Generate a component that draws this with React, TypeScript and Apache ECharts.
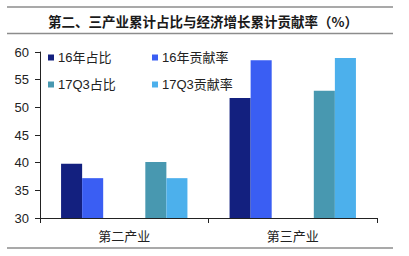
import React, { useEffect, useRef } from "react";
import * as echarts from "echarts";

const titleText = "第二、三产业累计占比与经济增长累计贡献率（%）";
const categories = ["第二产业", "第三产业"];
const share16 = [39.8, 51.7];
const contrib16 = [37.2, 58.5];
const share17Q3 = [40.1, 53.0];
const contrib17Q3 = [37.2, 58.9];
const seriesNames = ["16年占比", "16年贡献率", "17Q3占比", "17Q3贡献率"];
const colors = ["#13207f", "#3a5ef3", "#4898b0", "#4cb0ec"];
const yTicks = { min: 30, max: 60, interval: 5 };

export default function App() {
  const ref = useRef<HTMLDivElement>(null);
  useEffect(() => {
    if (!ref.current) return;
    const chart = echarts.init(ref.current, null, { renderer: "svg" });
    const labelFont = "Arial, 'Liberation Sans', 'Noto Sans CJK SC', sans-serif";
    const bar = (name: string, data: (number | null)[], color: string) => ({
      name,
      type: "bar",
      data,
      barGap: "0%",
      barCategoryGap: "25%",
      itemStyle: { color },
    });
    const legendBase = {
      orient: "vertical",
      top: 46,
      itemWidth: 6,
      itemHeight: 6,
      itemGap: 14,
      icon: "rect",
      textStyle: { fontSize: 13, color: "#222", fontFamily: labelFont, padding: [0, 0, 0, -1] },
    };
    chart.setOption({
      animation: false,
      backgroundColor: "#ffffff",
      graphic: [
        { type: "line", shape: { x1: 7, y1: 7, x2: 393, y2: 7 }, style: { stroke: "#8c8c8c", lineWidth: 1.5 } },
        { type: "line", shape: { x1: 7, y1: 33.5, x2: 393, y2: 33.5 }, style: { stroke: "#8c8c8c", lineWidth: 1.5 } },
        { type: "line", shape: { x1: 7, y1: 248, x2: 393, y2: 248 }, style: { stroke: "#8c8c8c", lineWidth: 1.5 } },
        {
          type: "text",
          x: 203,
          y: 21,
          style: {
            text: titleText,
            fill: "#1a1a1a",
            font: "bold 13.5px 'Noto Sans CJK SC', sans-serif",
            textAlign: "center",
            textVerticalAlign: "middle",
          },
        },
      ],
      legend: [
        { ...legendBase, data: [seriesNames[0], seriesNames[2]], left: 43 },
        { ...legendBase, data: [seriesNames[1], seriesNames[3]], left: 147 },
      ],
      grid: { left: 40, right: 32, top: 52, bottom: 38 },
      xAxis: {
        type: "category",
        data: categories,
        axisLine: { lineStyle: { color: "#222", width: 1 } },
        axisTick: { show: true, length: 5, lineStyle: { color: "#222" } },
        axisLabel: { fontSize: 13, color: "#222", margin: 11, fontFamily: "'Noto Sans CJK SC', sans-serif" },
      },
      yAxis: {
        type: "value",
        min: yTicks.min,
        max: yTicks.max,
        interval: yTicks.interval,
        splitLine: { show: false },
        axisLine: { show: true, lineStyle: { color: "#222", width: 1 } },
        axisTick: { show: true, length: 5, lineStyle: { color: "#222" } },
        axisLabel: { fontSize: 13, color: "#222", margin: 11, fontFamily: labelFont },
      },
      series: [
        bar(seriesNames[0], share16, colors[0]),
        bar(seriesNames[1], contrib16, colors[1]),
        bar("_gap1", [null, null], "transparent"),
        bar("_gap2", [null, null], "transparent"),
        bar(seriesNames[2], share17Q3, colors[2]),
        bar(seriesNames[3], contrib17Q3, colors[3]),
      ],
    });
    return () => chart.dispose();
  }, []);
  return <div ref={ref} style={{ position: "fixed", left: 0, top: 0, width: 409, height: 256 }} />;
}
